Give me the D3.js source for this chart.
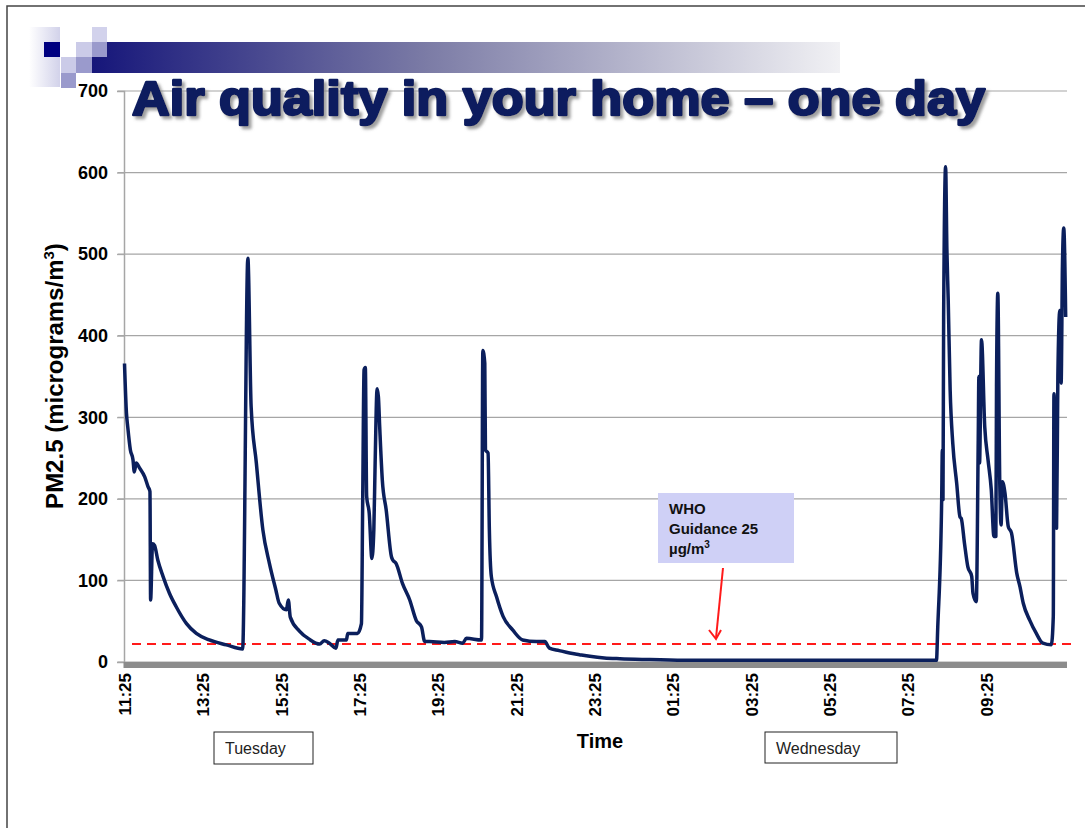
<!DOCTYPE html>
<html>
<head>
<meta charset="utf-8">
<script src="https://cdn.jsdelivr.net/npm/d3@7"></script>
<style>
  body { margin: 0; background: #fff; }
  svg { display: block; }
  text { font-family: "Liberation Sans", Arial, sans-serif; }
</style>
</head>
<body>
<div id="chart"></div>
<script>
// PM2.5 readings, clock time (rolls over midnight) and value in micrograms/m3
const times = [
  "11:25","11:28","11:30","11:34","11:38","11:40","11:43","11:48","11:56","12:01",
  "12:04","12:05","12:08","12:11","12:16","12:24","12:34","12:44","13:00","13:15",
  "13:35","14:01","14:26","14:34","14:39","14:47","14:57","15:07","15:17","15:22",
  "15:33","15:36","15:39","15:53","16:08","16:24","16:31","16:39","16:49","16:52",
  "17:05","17:07","17:22","17:28","17:30","17:32","17:34","17:36","17:40","17:44",
  "17:47","17:49","17:52","17:54","17:56","18:00","18:06","18:14","18:16","18:21",
  "18:31","18:42","18:52","19:00","19:05","19:12","19:35","19:51","20:03","20:09",
  "20:32","20:34","20:37","20:38","20:42","20:44","20:47","20:55","21:05","21:20",
  "21:35","21:56","22:09","22:16","22:31","22:47","23:02","23:18","23:40","00:04",
  "00:50","01:51","04:39",
  "08:09","08:11","08:17","08:18","08:19","08:20","08:23","08:25","08:27","08:30",
  "08:34","08:40","08:45","08:47","08:52","08:57","09:03","09:05","09:10","09:13",
  "09:14","09:15","09:18","09:23","09:28","09:33","09:37","09:40","09:41","09:43",
  "09:46","09:48","09:50","09:54","09:59","10:04","10:12","10:17","10:22","10:32",
  "10:42","10:52","11:05","11:08","11:09","11:13","11:15","11:18","11:20","11:22",
  "11:24","11:27"
];
const pm25 = [
  366,305,288,260,248,233,244,238,227,215,
  209,76,145,143,125,105,84,68,47,35,
  27,21,16,495,313,244,162,121,88,72,
  64,76,55,38,28,22,26,23,17,27,
  27,35,35,47,203,358,361,203,182,127,
  162,244,335,325,288,223,186,129,125,121,
  96,76,51,43,25,25,24,25,23,29,
  27,382,366,260,256,162,105,80,56,39,
  27,25,25,17,14,11,9,7,5,4,
  3,2,2,
  2,43,199,260,199,423,607,505,444,333,
  268,219,178,176,145,117,105,84,74,272,
  350,244,395,288,248,211,154,154,338,452,
  219,168,221,207,166,158,109,92,72,51,
  35,23,21,56,329,164,350,431,342,485,
  532,423
];

const yTicks = [0, 100, 200, 300, 400, 500, 600, 700];
const xTickLabels = ["11:25","13:25","15:25","17:25","19:25","21:25","23:25","01:25","03:25","05:25","07:25","09:25"];
const dayLabels = ["Tuesday", "Wednesday"];
const whoLevel = 22;
const startTime = "11:25";
const endTime = "11:29";

const W = 1085, H = 828;
const plotLeft = 124.5, plotRight = 1067, plotTop = 91, plotBottom = 662;

const parse = d3.timeParse("%Y-%m-%d %H:%M");
function toDates(list) {
  let day = 1, prev = -1;
  return list.map(function(t) {
    const mins = +t.slice(0, 2) * 60 + +t.slice(3, 5);
    if (mins < prev) day++;
    prev = mins;
    return parse("2013-01-0" + day + " " + t);
  });
}

const dates = toDates(times);
const data = dates.map((d, i) => ({date: d, value: pm25[i]}));
const tickDates = toDates(xTickLabels);
const t0 = parse("2013-01-01 " + startTime);
const t1 = parse("2013-01-02 " + endTime);

const x = d3.scaleTime().domain([t0, t1]).range([plotLeft, plotRight]);
const y = d3.scaleLinear().domain([0, 700]).range([plotBottom, plotTop]);

const svg = d3.select("#chart").append("svg")
    .attr("width", W)
    .attr("height", H);

const defs = svg.append("defs");
const bannerGrad = defs.append("linearGradient").attr("id", "banner");
bannerGrad.append("stop").attr("offset", "0%").attr("stop-color", "#16167a");
bannerGrad.append("stop").attr("offset", "45%").attr("stop-color", "#7c7ca6");
bannerGrad.append("stop").attr("offset", "100%").attr("stop-color", "#f1f1f4");
const squareGrad = defs.append("linearGradient").attr("id", "square");
squareGrad.append("stop").attr("offset", "0%").attr("stop-color", "#ffffff");
squareGrad.append("stop").attr("offset", "100%").attr("stop-color", "#d2d2ea");
const shadow = defs.append("filter").attr("id", "shadow")
    .attr("x", "-5%").attr("y", "-20%").attr("width", "110%").attr("height", "150%");
shadow.append("feDropShadow")
    .attr("dx", 3).attr("dy", 3).attr("stdDeviation", 1.5)
    .attr("flood-color", "#888").attr("flood-opacity", 0.8);

// slide frame
svg.append("rect")
    .attr("x", 7).attr("y", 6)
    .attr("width", 1200).attr("height", 1000)
    .attr("fill", "none")
    .attr("stroke", "#444")
    .attr("stroke-width", 1.5);

// banner decoration
svg.append("rect").attr("x", 92).attr("y", 42).attr("width", 748).attr("height", 31)
    .attr("fill", "url(#banner)");
const squares = [
  [29, 27, 31, 60, "url(#square)"],
  [44, 42, 16, 15, "#000080"],
  [76, 42, 16, 15, "#cbcbe8"],
  [92, 27, 15, 15, "#d2d2ec"],
  [92, 42, 15, 15, "#9a9acc"],
  [61, 57, 15, 16, "#cbcbe8"],
  [76, 57, 16, 16, "#9a9acc"],
  [61, 73, 15, 15, "#9a9acc"]
];
squares.forEach(function(s) {
  svg.append("rect").attr("x", s[0]).attr("y", s[1])
      .attr("width", s[2]).attr("height", s[3]).attr("fill", s[4]);
});

// gridlines
svg.append("g")
    .selectAll("line")
    .data(yTicks)
    .join("line")
    .attr("x1", plotLeft - 7).attr("x2", plotRight)
    .attr("y1", d => y(d)).attr("y2", d => y(d))
    .attr("stroke", "#a6a6a6")
    .attr("stroke-width", 1.2);

// y axis
const yAxis = svg.append("g")
    .attr("transform", "translate(" + (plotLeft - 0.5) + ",0)")
    .call(d3.axisLeft(y).tickValues(yTicks).tickSize(7).tickPadding(9));
yAxis.select(".domain").attr("stroke", "#a6a6a6").attr("stroke-width", 1.5);
yAxis.selectAll(".tick line").attr("stroke", "#a6a6a6");
yAxis.selectAll("text")
    .attr("font-size", 18)
    .attr("font-weight", "bold")
    .attr("font-family", "'Liberation Sans', Arial, sans-serif")
    .attr("fill", "#000");

// floor
svg.append("rect")
    .attr("x", plotLeft - 1).attr("y", plotBottom)
    .attr("width", plotRight - plotLeft + 1).attr("height", 6)
    .attr("fill", "#8c8c8c");

// x axis
const xAxis = svg.append("g")
    .attr("transform", "translate(0," + plotBottom + ")")
    .call(d3.axisBottom(x).tickValues(tickDates).tickFormat(d3.timeFormat("%H:%M")).tickSize(0));
xAxis.select(".domain").remove();
xAxis.selectAll("text")
    .attr("transform", "rotate(-90)")
    .attr("x", -11)
    .attr("y", 0)
    .attr("dy", "0.35em")
    .attr("text-anchor", "end")
    .attr("font-size", 17)
    .attr("font-weight", "bold")
    .attr("font-family", "'Liberation Sans', Arial, sans-serif")
    .attr("fill", "#000");

// WHO guidance line
svg.append("line")
    .attr("x1", 132).attr("x2", 1072)
    .attr("y1", y(whoLevel)).attr("y2", y(whoLevel))
    .attr("stroke", "#ff1a1a")
    .attr("stroke-width", 2)
    .attr("stroke-dasharray", "9,6");

// PM2.5 series
const line = d3.line()
    .x(d => x(d.date))
    .y(d => y(d.value))
    .curve(d3.curveMonotoneX);

svg.append("path")
    .datum(data)
    .attr("d", line)
    .attr("fill", "none")
    .attr("stroke", "#0b1f5c")
    .attr("stroke-width", 3.5)
    .attr("stroke-linejoin", "round");

// title
svg.append("text")
    .attr("x", 132).attr("y", 115)
    .attr("textLength", 853)
    .attr("lengthAdjust", "spacingAndGlyphs")
    .attr("font-family", "'DejaVu Sans', sans-serif")
    .attr("font-weight", "bold")
    .attr("font-size", 49)
    .attr("fill", "#0d1f5e")
    .attr("stroke", "#0d1f5e")
    .attr("stroke-width", 2.6)
    .attr("stroke-linejoin", "round")
    .attr("filter", "url(#shadow)")
    .text("Air quality in your home \u2013 one day");

// y axis title
const yTitle = svg.append("text")
    .attr("transform", "translate(63,376) rotate(-90)")
    .attr("text-anchor", "middle")
    .attr("font-size", 24)
    .attr("font-weight", "bold")
    .attr("fill", "#000");
yTitle.append("tspan").text("PM2.5 (micrograms/m");
yTitle.append("tspan").attr("font-size", 15).attr("dy", -9).text("3");
yTitle.append("tspan").attr("dy", 9).text(")");

// x axis title
svg.append("text")
    .attr("x", 600).attr("y", 748)
    .attr("text-anchor", "middle")
    .attr("font-size", 20)
    .attr("font-weight", "bold")
    .text("Time");

// day boxes
const dayBoxes = [[214, 732, 99, 32], [765, 732, 132, 31]];
dayLabels.forEach(function(label, i) {
  const b = dayBoxes[i];
  svg.append("rect")
      .attr("x", b[0]).attr("y", b[1]).attr("width", b[2]).attr("height", b[3])
      .attr("fill", "#fff").attr("stroke", "#222").attr("stroke-width", 1);
  svg.append("text")
      .attr("x", b[0] + 11).attr("y", b[1] + 22)
      .attr("font-size", 16)
      .attr("fill", "#222")
      .text(label);
});

// WHO callout
svg.append("rect")
    .attr("x", 658).attr("y", 493).attr("width", 136).attr("height", 70)
    .attr("fill", "#cfd0f6");
const callout = svg.append("text")
    .attr("x", 669).attr("y", 514)
    .attr("font-size", 15)
    .attr("font-weight", "bold")
    .attr("fill", "#111");
callout.append("tspan").attr("x", 669).text("WHO");
callout.append("tspan").attr("x", 669).attr("dy", 20).text("Guidance " + 25);
callout.append("tspan").attr("x", 669).attr("dy", 20).text("\u00b5g/m");
callout.append("tspan").attr("font-size", 10).attr("dy", -6).text("3");

// arrow
svg.append("line")
    .attr("x1", 723).attr("y1", 568)
    .attr("x2", 716).attr("y2", 638)
    .attr("stroke", "#ff1a1a").attr("stroke-width", 2);
svg.append("path")
    .attr("d", "M709,630 L716,639 L721,630")
    .attr("fill", "none")
    .attr("stroke", "#ff1a1a").attr("stroke-width", 2);
</script>
</body>
</html>
